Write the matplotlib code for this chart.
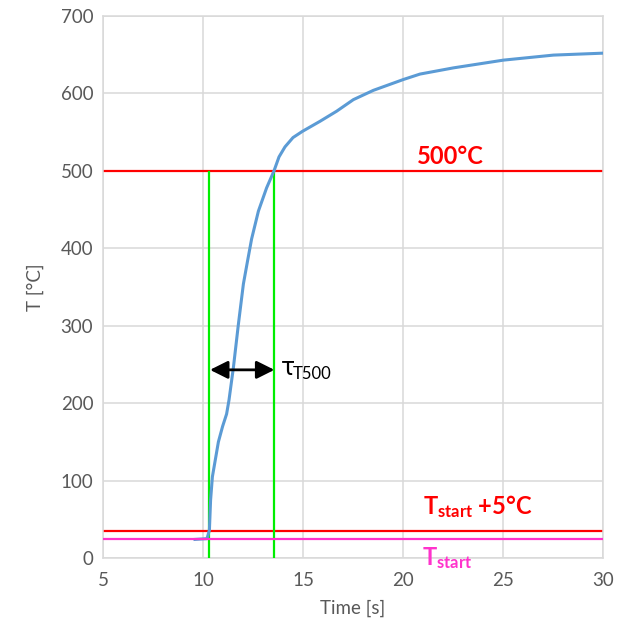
import matplotlib
matplotlib.use("Agg")
import matplotlib.pyplot as plt

time_s = [9.6, 10.2, 10.32, 10.38, 10.47, 10.77, 10.98, 11.18, 11.3, 11.52,
          11.77, 12.02, 12.23, 12.43, 12.77, 13.18, 13.55, 13.8, 14.1, 14.5,
          14.97, 15.85, 16.68, 17.52, 18.52, 20.02, 20.85, 22.52, 25.02, 27.52, 30]
temp_c = [24, 25, 36, 75, 105, 150, 170, 186, 204, 246,
          302, 354, 384, 412, 448, 478, 500, 518, 531, 543,
          551, 564, 577, 592, 604, 618, 625, 633, 643, 649.5, 652]

t_start = 25
t_start_plus = 35
t_500 = 500
t_on = 10.3      # left marker
t_cross = 13.55  # time the curve reaches 500 C
arrow_y = 243

xticks = [5, 10, 15, 20, 25, 30]
yticks = [0, 100, 200, 300, 400, 500, 600, 700]

plt.rcParams["font.family"] = ["Lato", "DejaVu Sans"]
plt.rcParams["mathtext.fontset"] = "custom"
plt.rcParams["mathtext.rm"] = "Lato"
plt.rcParams["mathtext.bf"] = "Lato:bold"
plt.rcParams["mathtext.it"] = "Lato:italic"

grey = "#595959"
grid = "#d9d9d9"

fig = plt.figure(figsize=(6.24, 6.37), dpi=100)
ax = fig.add_axes([103 / 624, 1 - 558 / 637, 500 / 624, 542 / 637])

ax.set_xlim(5, 30)
ax.set_ylim(0, 700)
ax.set_xticks(xticks)
ax.set_yticks(yticks)
ax.grid(color=grid, linewidth=1.1)
ax.set_axisbelow(True)
for sp in ax.spines.values():
    sp.set_color(grid)
    sp.set_linewidth(1.1)
ax.tick_params(length=0, colors=grey, labelsize=13.5)
ax.tick_params(axis="x", pad=10)
ax.tick_params(axis="y", pad=7)

ax.set_xlabel("Time [s]", color=grey, fontsize=13.5, labelpad=8)
ax.set_ylabel("T [°C]", color=grey, fontsize=13.5, labelpad=12)

# reference lines
ax.axhline(t_start_plus, color="#ff0000", lw=1.6, zorder=2)
ax.axhline(t_500, color="#ff0000", lw=1.6, zorder=2)
ax.plot([t_on, t_on], [0, 498], color="#00ee00", lw=1.6, zorder=3)
ax.plot([t_cross, t_cross], [0, 498], color="#00ee00", lw=1.6, zorder=3)

ax.plot(time_s, temp_c, color="#5b9bd5", lw=2.2, zorder=4)
# Tstart line sits on top of the flat start of the curve
ax.axhline(t_start, color="#ff33cc", lw=1.6, zorder=5)

ax.annotate("", xy=(t_on + 0.05, arrow_y), xytext=(t_cross + 0.02, arrow_y),
            arrowprops=dict(arrowstyle="<|-|>", color="black", lw=2,
                            mutation_scale=27, shrinkA=0, shrinkB=0),
            zorder=6)
ax.text(13.9, 246, "τ", fontsize=17, color="black", ha="left", va="center",
        family=["DejaVu Sans"])
ax.text(14.5, 237, "T500", fontsize=12, color="black", ha="left", va="center")

ax.text(22.35, 509, "500°C", color="#ff0000", fontsize=17, fontweight="bold",
        ha="center", va="baseline")
ax.text(21.0, 57, r"$\mathbf{T_{start}}$ +5°C", color="#ff0000", fontsize=17,
        fontweight="bold", ha="left", va="baseline")
ax.text(20.93, -9, r"$\mathbf{T_{start}}$", color="#ff33cc", fontsize=17,
        fontweight="bold", ha="left", va="baseline", clip_on=False)

fig.savefig("out.png", dpi=100)
